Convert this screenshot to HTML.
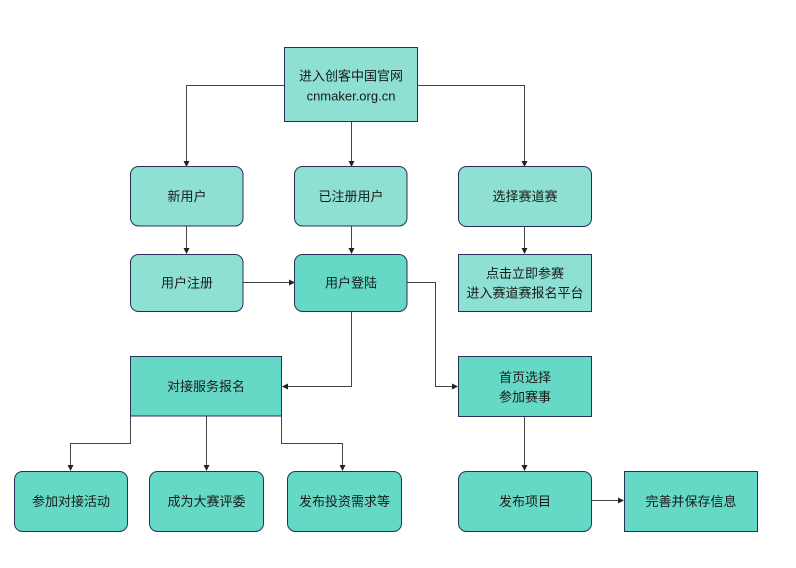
<!DOCTYPE html>
<html>
<head>
<meta charset="utf-8">
<style>
html,body{margin:0;padding:0;background:#fff;}
svg{display:block;}
text{font-family:"Liberation Sans","Noto Sans CJK SC",sans-serif;font-size:13px;fill:#1a1a1a;text-anchor:middle;dominant-baseline:central;}
.l{fill:#8EE0D2;stroke:#26305A;stroke-width:1;}
.d{fill:#66D9C6;stroke:#26305A;stroke-width:1;}
.c{fill:none;stroke:#444;stroke-width:1;}
.a{fill:#222;}
</style>
</head>
<body>
<svg width="796" height="568" viewBox="0 0 796 568" xmlns="http://www.w3.org/2000/svg">
<!-- connectors -->
<polyline class="c" points="284.5,85.5 186.5,85.5 186.5,162"/>
<polyline class="c" points="351.5,122 351.5,162"/>
<polyline class="c" points="417.5,85.5 524.5,85.5 524.5,162"/>
<polyline class="c" points="186.5,226 186.5,249"/>
<polyline class="c" points="351.5,226 351.5,249"/>
<polyline class="c" points="524.5,227 524.5,249"/>
<polyline class="c" points="243,282.5 290,282.5"/>
<polyline class="c" points="407,282.5 435.5,282.5 435.5,386.5 453,386.5"/>
<polyline class="c" points="351.5,312 351.5,386.5 287,386.5"/>
<polyline class="c" points="130.5,416 130.5,443.5 70.5,443.5 70.5,466"/>
<polyline class="c" points="206.5,416 206.5,466"/>
<polyline class="c" points="281.5,416 281.5,443.5 342.5,443.5 342.5,466"/>
<polyline class="c" points="524.5,417 524.5,466"/>
<polyline class="c" points="592,500.5 619,500.5"/>
<!-- arrowheads -->
<polygon class="a" points="183.5,161 189.5,161 186.5,167"/>
<polygon class="a" points="348.5,161 354.5,161 351.5,167"/>
<polygon class="a" points="521.5,161 527.5,161 524.5,167"/>
<polygon class="a" points="183.5,248 189.5,248 186.5,254"/>
<polygon class="a" points="348.5,248 354.5,248 351.5,254"/>
<polygon class="a" points="521.5,248 527.5,248 524.5,254"/>
<polygon class="a" points="289,279.5 289,285.5 295,282.5"/>
<polygon class="a" points="452,383.5 452,389.5 458,386.5"/>
<polygon class="a" points="288,383.5 288,389.5 282,386.5"/>
<polygon class="a" points="67.5,465 73.5,465 70.5,471"/>
<polygon class="a" points="203.5,465 209.5,465 206.5,471"/>
<polygon class="a" points="339.5,465 345.5,465 342.5,471"/>
<polygon class="a" points="521.5,465 527.5,465 524.5,471"/>
<polygon class="a" points="618,497.5 618,503.5 624,500.5"/>
<!-- boxes -->
<rect class="l" x="284.5" y="47.5" width="133" height="74"/>
<text x="351" y="76">进入创客中国官网</text>
<text x="351" y="96">cnmaker.org.cn</text>

<rect class="l" x="130.5" y="166.5" width="112.5" height="59.5" rx="8"/>
<text x="187" y="196.5">新用户</text>
<rect class="l" x="294.5" y="166.5" width="112.5" height="59.5" rx="8"/>
<text x="351" y="196.5">已注册用户</text>
<rect class="l" x="458.5" y="166.5" width="133" height="60" rx="8"/>
<text x="525" y="196.5">选择赛道赛</text>

<rect class="l" x="130.5" y="254.5" width="112.5" height="57" rx="8"/>
<text x="187" y="283">用户注册</text>
<rect class="d" x="294.5" y="254.5" width="112.5" height="57" rx="8"/>
<text x="351" y="283">用户登陆</text>
<rect class="l" x="458.5" y="254.5" width="133" height="57"/>
<text x="525" y="273.5">点击立即参赛</text>
<text x="525" y="293">进入赛道赛报名平台</text>

<rect class="d" x="130.5" y="356.5" width="151" height="59.5"/>
<text x="206" y="386.5">对接服务报名</text>
<rect class="d" x="458.5" y="356.5" width="133" height="60"/>
<text x="525" y="377.5">首页选择</text>
<text x="525" y="397">参加赛事</text>

<rect class="d" x="14.5" y="471.5" width="113" height="60" rx="8"/>
<text x="71" y="501.5">参加对接活动</text>
<rect class="d" x="149.5" y="471.5" width="114" height="60" rx="8"/>
<text x="206.5" y="501.5">成为大赛评委</text>
<rect class="d" x="287.5" y="471.5" width="114" height="60" rx="8"/>
<text x="344.5" y="501.5">发布投资需求等</text>
<rect class="d" x="458.5" y="471.5" width="133" height="60" rx="8"/>
<text x="525" y="501.5">发布项目</text>
<rect class="d" x="624.5" y="471.5" width="133" height="60"/>
<text x="691" y="501.5">完善并保存信息</text>
</svg>
</body>
</html>
